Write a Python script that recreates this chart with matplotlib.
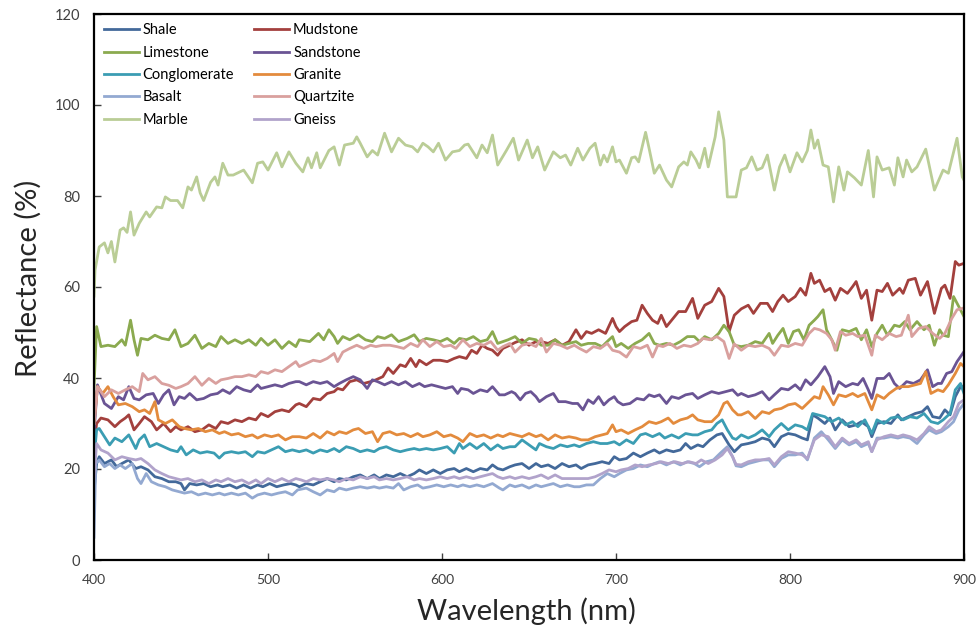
import matplotlib
matplotlib.use("Agg")
import matplotlib.pyplot as plt

plt.rcParams["font.family"] = ["Lato", "DejaVu Sans"]

# ---- data (wavelength in nm, reflectance in %) ----
wl_shale = [400, 401.5, 403, 406, 410, 413, 416, 420, 424, 427, 431, 435, 439, 443, 447, 450, 452, 455, 459, 463,
            467, 471, 474, 478, 482, 486, 490, 494, 497, 501, 505, 509, 513, 516, 518, 522, 526, 530, 534, 538,
            541, 545, 549, 553, 557, 561, 564, 568, 572, 576, 580, 584, 587, 591, 595, 599, 603, 607, 610, 614,
            618, 622, 626, 629, 632, 635, 639, 642, 646, 650, 654, 657, 661, 665, 669, 673, 677, 680, 684, 688,
            692, 696, 699, 702, 706, 710, 714, 718, 722, 725, 729, 733, 737, 740, 743, 747, 750, 754, 758, 761,
            765, 768, 772, 776, 780, 784, 788, 791, 795, 799, 803, 807, 810, 813, 816, 820, 823, 826, 830, 834,
            838, 841, 845, 847, 850, 854, 858, 862, 864, 868, 872, 876, 879, 882, 886, 889, 892, 895, 898, 900]
shale = [15, 21.2, 22.7, 21.2, 22, 20.5, 21.2, 22, 20.1, 20.5, 19.8, 18.3, 17.9, 17.2, 17.2, 16.8, 15.4, 16.8, 16.5, 16.8,
         16.1, 16.5, 16.1, 16.5, 15.8, 16.5, 15.8, 16.5, 16.1, 16.8, 16.1, 16.5, 16.8, 16.5, 16.1, 16.8, 16.5, 17.2, 17.9, 17.2,
         17.9, 17.6, 18.3, 18.7, 17.9, 18.7, 17.9, 18.7, 18.3, 19, 18.3, 19, 19.8, 19, 19.8, 19, 19.8, 20.1, 19.4, 20.1,
         19.4, 20.1, 19.8, 20.9, 20.1, 19.8, 20.5, 20.9, 21.2, 20.1, 21.2, 20.5, 20.9, 20.1, 21.2, 20.5, 20.9, 20.1, 20.9, 21.2,
         21.6, 21.2, 22.7, 22, 22.3, 23.5, 22.7, 23.5, 24.2, 23.5, 24.2, 23.8, 24.2, 25.6, 24.5, 25.3, 24.9, 26.4, 27.5, 27.8,
         25.3, 23.8, 25.3, 25.6, 26, 26.8, 26.4, 24.9, 27.1, 27.8, 27.5, 26.8, 26.4, 31.9, 31.2, 30, 31.2, 28.6, 30.8, 29.3,
         29.7, 30.4, 29.3, 27.1, 30, 30.4, 30, 31.9, 30.8, 31.5, 32.2, 32.6, 33.7, 31.5, 31.2, 33, 31.9, 35.9, 38.1, 38.1]

wl_mudstone = [400, 401.5, 404, 408, 412, 415, 418, 420, 423, 426, 429, 433, 436, 440, 444, 447, 450, 454, 458, 462,
               466, 470, 473, 477, 481, 485, 489, 493, 496, 500, 504, 508, 512, 516, 518, 522, 526, 530, 534, 538,
               540, 543, 547, 551, 555, 559, 562, 566, 569, 572, 576, 579, 582, 585, 587, 591, 595, 599, 603, 607,
               610, 614, 617, 620, 623, 626, 629, 632, 635, 639, 642, 646, 650, 654, 657, 661, 665, 669, 673, 677,
               680, 683, 686, 690, 694, 698, 700, 702, 705, 709, 712, 715, 718, 721, 724, 726, 729, 732, 736, 740,
               744, 747, 751, 755, 759, 762, 765, 768, 772, 776, 779, 783, 787, 790, 793, 796, 799, 803, 806, 809,
               812, 814, 817, 820, 823, 826, 829, 833, 836, 838, 841, 844, 847, 850, 853, 856, 859, 863, 865, 868,
               872, 875, 879, 883, 887, 889, 892, 895, 897, 900]
mudstone = [25, 30, 31.2, 30.8, 29.3, 30.4, 31.2, 31.9, 28.6, 30, 31.5, 30.4, 28.6, 30, 28.2, 29.3, 28.6, 29.3, 28.2, 28.6,
            29.7, 28.9, 30.4, 30, 30.8, 30.4, 31.2, 30.8, 32.2, 31.5, 32.6, 33, 32.6, 34.1, 34.4, 33.7, 35.5, 35.2, 36.6, 37,
            37.7, 37.4, 39.2, 39.6, 38.8, 39.2, 39.6, 40.3, 42.2, 41, 42.9, 42.5, 44.3, 42.5, 43.9, 42.9, 43.9, 43.9, 43.6, 44.3,
            44.7, 44.3, 46.1, 45.4, 47.2, 46.5, 46.1, 45, 46.5, 47.2, 47.8, 48.4, 47.2, 48, 48, 47.6, 48.4, 47.2, 48, 50.6,
            48.7, 50.2, 49.8, 50.6, 49.8, 53.1, 51.3, 50.2, 51.3, 52.4, 52.7, 56, 54.2, 52.7, 52, 53.8, 51.3, 52.7, 54.6, 54.6,
            57.5, 53.1, 56, 56.8, 59.7, 57.9, 50.2, 53.8, 55.2, 56, 54.2, 56.4, 56.4, 54.6, 56.8, 58.2, 56.8, 57.9, 59.7, 58.2,
            63, 60.8, 61.5, 59, 59.7, 57.1, 59.7, 58.6, 60.1, 61.2, 57.5, 59.3, 52.7, 59.3, 59, 60.8, 58.2, 59.7, 58.6, 61.5,
            61.9, 58.2, 61.2, 54.2, 59.7, 60.4, 57.5, 65.6, 64.8, 65.2]

wl_limestone = [400, 401.5, 404, 408, 412, 416, 418, 421, 423, 425, 427, 431, 435, 439, 443, 446.5, 450, 454, 458, 462,
                466, 470, 473, 477, 481, 485, 489, 493, 496, 500, 504, 508, 512, 516, 518, 524, 529, 532, 535, 538,
                540, 543, 547, 552, 556, 560, 563, 567, 571, 575, 580, 584, 587, 591, 595, 599, 603, 607, 610, 614,
                618, 622, 626, 629, 632, 635, 638, 642, 646, 650, 654, 657, 661, 665, 669, 673, 677, 680, 684, 688,
                692, 696, 698, 700, 703, 707, 711, 715, 719, 722, 725, 729, 733, 737, 741, 745, 748, 751, 755, 759,
                762, 765, 768, 772, 776, 780, 784, 788, 790, 793, 796, 799, 802, 805, 808, 811, 814, 816, 819, 821,
                824, 827, 830, 834, 838, 841, 844, 847, 850, 853, 856, 860, 863, 866, 869, 873, 877, 880, 883, 886,
                888, 891, 894, 897, 900]
limestone = [38, 51.3, 46.9, 47.2, 46.9, 48.4, 47.2, 52.7, 48.4, 45, 48.7, 48.4, 49.4, 48.7, 48.4, 50.6, 46.9, 47.6, 49.4, 46.5,
             47.6, 46.9, 49.1, 47.6, 48.4, 47.6, 48.4, 47.2, 48.7, 47.2, 48.4, 46.5, 48, 46.9, 48.4, 48, 49.8, 48.4, 50.6, 49.1,
             47.6, 49.1, 48.4, 49.5, 48.4, 48, 49.1, 48.7, 49.5, 48, 48.7, 49.5, 48, 48.7, 48.4, 48, 48.7, 47.6, 48.7, 48.4,
             49.1, 48, 48.4, 50.2, 47.6, 48, 48.4, 49.1, 47.6, 48.7, 48.4, 47.2, 47.2, 48.4, 47.2, 47.6, 48, 47.2, 47.6, 47.6,
             46.9, 48.4, 49.1, 46.9, 47.6, 46.5, 47.6, 48.4, 49.8, 47.6, 47.2, 47.6, 47.2, 48, 49.1, 49.1, 48, 49.1, 48.4, 49.8,
             51.6, 50.2, 47.2, 46.9, 47.2, 48, 47.6, 49.8, 47.6, 49.4, 50.9, 47.6, 50.2, 50.6, 48.4, 51.6, 52.7, 53.5, 55, 50.6,
             48.4, 46.1, 50.6, 50.2, 50.9, 48.4, 50.6, 46.9, 49.8, 51.6, 49.4, 51.6, 51.3, 52.4, 50.6, 52.4, 50.6, 51.6, 47.2, 50.6,
             49.4, 49.1, 57.9, 55.7, 53.5]

wl_sandstone = [400, 402, 406, 410, 414, 417, 420, 423, 426, 430, 434, 437, 440, 443, 446, 449, 452, 455, 459, 463,
                467, 471, 474, 478, 482, 486, 490, 494, 496, 500, 504, 508, 512, 516, 518, 522, 526, 530, 534, 538,
                541, 545, 549, 553, 557, 560, 563, 567, 571, 575, 579, 583, 587, 590, 594, 598, 602, 606, 609, 611,
                615, 618, 622, 626, 629, 633, 636, 640, 642, 645, 648, 651, 654, 656, 660, 664, 667, 671, 675, 678,
                681, 684, 687, 690, 693, 696, 699, 701, 704, 708, 712, 716, 719, 722, 725, 729, 732, 736, 740, 744,
                747, 751, 755, 759, 763, 767, 770, 772, 776, 780, 784, 788, 791, 795, 799, 803, 806, 809, 812, 816,
                820, 823, 825, 828, 832, 836, 839, 842, 845, 847, 850, 854, 857, 860, 863, 867, 871, 875, 879, 882,
                885, 887, 890, 893, 896, 900]
sandstone = [28, 38.5, 34.4, 33.3, 35.9, 35.2, 38.1, 35.5, 35.2, 36.3, 36.6, 34.4, 36.3, 37.4, 34.1, 35.9, 35.5, 36.6, 35.2, 35.5,
             36.3, 36.6, 37.4, 36.6, 38.1, 37.4, 37, 38.5, 37.7, 38.1, 38.5, 38.1, 38.8, 39.2, 39.2, 38.5, 39.2, 38.8, 39.2, 38.1,
             38.8, 39.6, 40.3, 39.6, 37.7, 39.6, 39.2, 38.5, 39.2, 38.5, 39.2, 38.1, 38.8, 38.1, 38.5, 38.1, 37.7, 38.1, 36.6, 37.7,
             37.4, 36.6, 37.4, 37, 38.1, 36.3, 36.3, 37, 36.6, 35.2, 36.6, 37, 35.9, 34.8, 35.9, 36.6, 34.8, 34.8, 34.4, 34.4,
             33, 35.2, 34.4, 35.9, 34.1, 35.2, 35.9, 34.8, 34.1, 34.4, 35.5, 35.2, 36.3, 35.9, 36.3, 34.4, 35.9, 35.5, 36.3, 36.6,
             35.5, 36.3, 37, 36.6, 37, 37.4, 36.2, 36.6, 35.9, 36.3, 37, 35.2, 36.3, 37.7, 37.4, 38.5, 37.4, 39.6, 38.5, 40.3,
             42.5, 40.3, 36.6, 39.2, 38.1, 38.8, 38.5, 39.9, 37.4, 35.5, 39.9, 39.9, 41, 38.8, 37.7, 39.2, 38.8, 39.6, 41.8, 38.1,
             38.8, 38.8, 41, 41.4, 43.6, 45.8]

wl_conglomerate = [400, 401.5, 403, 406, 409, 412, 416, 420, 424, 426, 429, 432, 436, 440, 444, 448, 450, 453, 457, 461,
                   465, 469, 472, 475, 479, 483, 487, 491, 494, 498, 502, 506, 510, 514, 518, 522, 526, 530, 534, 538,
                   541, 545, 549, 553, 557, 561, 564, 568, 572, 576, 580, 584, 587, 591, 595, 599, 603, 607, 610, 612,
                   616, 620, 624, 628, 632, 635, 639, 642, 646, 650, 654, 656, 660, 664, 668, 672, 676, 679, 683, 687,
                   691, 695, 699, 702, 706, 710, 714, 717, 721, 725, 728, 732, 736, 740, 744, 747, 751, 755, 758, 761,
                   764, 767, 769, 772, 776, 780, 784, 788, 791, 795, 799, 803, 807, 810, 813, 816, 820, 824, 828, 832,
                   836, 839, 843, 847, 850, 854, 858, 862, 865, 869, 873, 877, 881, 885, 888, 892, 895, 898, 900]
conglomerate = [22, 28.6, 28.9, 27.1, 25.3, 26.8, 26, 27.5, 24.5, 26.4, 27.5, 24.9, 25.6, 24.9, 24.2, 23.8, 24.9, 23.1, 24.2, 23.5,
                23.8, 23.5, 22.4, 23.5, 23.8, 23.5, 23.8, 22.7, 23.8, 23.5, 24.2, 24.9, 23.8, 24.2, 23.8, 24.2, 23.5, 24.2, 23.8, 24.5,
                23.8, 24.9, 24.5, 23.8, 24.2, 23.8, 24.5, 24.9, 24.2, 23.8, 24.2, 24.5, 24.2, 24.5, 24.2, 24.5, 24.9, 23.5, 25.6, 24.5,
                25.6, 24.5, 25.6, 24.2, 25.3, 24.5, 24.9, 24.9, 26.4, 25.3, 24.2, 25.6, 24.9, 24.5, 25.3, 24.9, 25.3, 24.9, 25.6, 26,
                25.6, 25.6, 26, 25.3, 26.4, 25.6, 27.5, 27.8, 27.1, 27.8, 26.8, 27.5, 26.8, 27.8, 27.5, 27.5, 28.2, 28.6, 30, 30.8,
                28.6, 26.8, 26.5, 27.5, 26.8, 27.5, 28.6, 27.1, 28.6, 30, 28.6, 29.7, 29.3, 28.6, 32.2, 31.9, 31.5, 30.4, 31.2, 29.7,
                30.4, 29.3, 30.8, 27.8, 30.8, 30, 31.2, 31.5, 30.8, 31.5, 31.2, 32.2, 30.4, 30, 30.8, 32.2, 37.4, 38.8, 36.6]

wl_granite = [400, 402, 405, 408, 411, 414, 418, 422, 426, 429, 432, 435, 437, 441, 445, 449, 452, 456, 460, 464,
              468, 472, 475, 479, 483, 487, 491, 494, 498, 502, 506, 510, 514, 518, 522, 526, 530, 534, 538, 541,
              545, 549, 552, 556, 560, 563, 566, 570, 574, 578, 582, 586, 589, 593, 597, 601, 605, 609, 612, 616,
              620, 624, 628, 632, 635, 639, 642, 646, 650, 654, 657, 661, 665, 669, 673, 677, 680, 684, 688, 692,
              695, 698, 700, 703, 707, 711, 715, 719, 723, 726, 730, 733, 737, 741, 744, 747, 751, 755, 759, 762,
              764, 767, 770, 772, 776, 780, 784, 788, 791, 795, 799, 803, 807, 810, 814, 817, 819, 822, 825, 828,
              832, 836, 839, 843, 847, 850, 854, 857, 861, 864, 868, 872, 875, 878, 881, 885, 888, 891, 895, 898, 900]
granite = [30, 38.1, 36.6, 38.1, 35.9, 34.1, 34.4, 33.7, 32.6, 33, 32.2, 34.8, 30.8, 30, 30.8, 29.3, 28.9, 28.6, 28.9, 28.2,
           28.6, 27.8, 28.2, 27.5, 27.8, 27.1, 27.5, 26.8, 27.5, 27.1, 27.5, 26.4, 27.1, 27.1, 26.8, 27.8, 26.8, 28.2, 27.5, 28.2,
           27.8, 28.6, 28.9, 27.8, 28.2, 26, 27.8, 28.2, 27.5, 27.8, 27.1, 27.8, 27.1, 27.5, 28.2, 27.1, 27.5, 26.8, 26, 27.8,
           27.1, 27.5, 26.8, 27.5, 27.1, 27.8, 27.5, 27.1, 27.8, 27.1, 27.5, 26.4, 27.5, 26.8, 27.1, 26.8, 26.4, 26.4, 27.1, 27.5,
           27.8, 29.7, 28.2, 28.6, 27.8, 28.6, 29.3, 30.4, 30, 30.4, 31.2, 30, 30.8, 31.2, 31.9, 30.8, 30.4, 30.4, 31.9, 34.4,
           34.8, 33, 31.9, 31.9, 32.6, 31.1, 32.6, 32.2, 33, 33.3, 34.1, 34.4, 33.3, 34.4, 35.9, 35.5, 38.1, 36.3, 34.1, 36.3,
           35.9, 36.6, 35.9, 36.6, 33, 36.3, 35.5, 36.6, 37.7, 38.1, 38.1, 38.5, 38.8, 41.4, 36.6, 37.4, 37, 38.5, 41, 43.2, 42.5]

wl_basalt = [400, 401, 403, 406, 409, 412, 415, 418, 422, 425, 427, 430, 433, 437, 441, 445, 449, 452, 456, 460,
             464, 468, 472, 475, 479, 483, 487, 491, 494, 498, 502, 506, 510, 514, 517, 522, 526, 530, 534, 538,
             541, 545, 549, 553, 557, 561, 564, 568, 572, 575, 578, 582, 586, 589, 593, 597, 601, 605, 609, 612,
             616, 620, 624, 629, 633, 635, 639, 642, 646, 650, 654, 657, 661, 664, 668, 672, 676, 679, 683, 687,
             691, 695, 699, 702, 706, 710, 714, 718, 722, 725, 729, 733, 737, 741, 745, 748, 752, 756, 760, 764,
             767, 769, 772, 776, 780, 784, 788, 791, 795, 799, 803, 807, 810, 814, 818, 822, 826, 830, 834, 838,
             841, 845, 847, 850, 854, 858, 862, 865, 869, 873, 877, 880, 884, 887, 891, 894, 897, 900]
basalt = [5, 21.2, 22, 20.5, 21.2, 20.1, 20.9, 20.1, 21.2, 17.9, 16.8, 19, 17.2, 16.5, 16.1, 15.4, 15, 14.7, 15, 14.3,
          14.7, 14.3, 14.7, 14.3, 14.7, 14.3, 14.7, 13.6, 14.3, 14.7, 14.3, 14.7, 15, 14.3, 15.4, 15.8, 15, 14.3, 15.4, 15,
          15.8, 15.4, 15.8, 16.1, 15.8, 16.1, 15.8, 16.1, 15.8, 16.8, 15.4, 16.1, 16.5, 15.8, 16.1, 16.5, 16.1, 16.5, 16.1, 16.5,
          16.1, 16.5, 16.1, 16.8, 15.8, 15.4, 16.5, 16.1, 16.5, 15.8, 16.5, 16.1, 16.5, 16.8, 16.1, 16.5, 16.1, 16.1, 16.5, 16.5,
          17.9, 19, 18.3, 19, 19.8, 20.1, 20.9, 20.5, 21.2, 21.6, 20.9, 21.6, 20.9, 21.6, 21.2, 20.5, 21.6, 22, 23.5, 24.9,
          22.7, 20.7, 20.5, 21.2, 21.6, 22, 22, 20.5, 22.3, 23.1, 23.1, 23.5, 22, 26.8, 28.2, 26.4, 24.5, 26.4, 25.3, 26,
          24.9, 25.6, 23.8, 26.8, 26.8, 27.1, 26.8, 27.1, 26.8, 25.6, 27.5, 28.6, 27.8, 28.2, 29.3, 30.4, 32.9, 34.4]

wl_quartzite = [400, 402, 406, 410, 414, 418, 422, 426, 428, 431, 435, 439, 443, 447, 450, 454, 458, 462, 466, 470,
                473, 477, 481, 485, 489, 493, 496, 500, 504, 508, 512, 516, 518, 522, 526, 530, 534, 538, 540, 543,
                547, 551, 555, 559, 562, 566, 570, 574, 578, 582, 586, 589, 593, 597, 601, 605, 608, 612, 616, 620,
                624, 628, 632, 635, 639, 642, 646, 650, 654, 657, 660, 664, 668, 672, 676, 679, 683, 687, 691, 695,
                698, 702, 706, 710, 714, 718, 721, 724, 727, 731, 735, 739, 743, 747, 750, 754, 758, 762, 765, 768,
                772, 776, 780, 784, 788, 791, 795, 799, 803, 807, 811, 814, 817, 821, 824, 826, 829, 832, 836, 839,
                843, 847, 849, 853, 857, 861, 864, 868, 870, 874, 878, 882, 886, 889, 893, 896, 900]
quartzite = [30, 38.1, 35.9, 37.4, 36.6, 37.4, 38.1, 37, 41, 39.6, 40.3, 38.8, 38.4, 37.7, 38.1, 38.8, 40.3, 38.4, 39.9, 38.8,
             39.6, 39.9, 40.3, 40.3, 40.7, 40.3, 41.4, 41, 41.8, 41.4, 42.5, 43.6, 42.5, 43.2, 43.9, 43.6, 44.3, 45.4, 43.6, 45.7,
             46.5, 47.2, 46.5, 47.2, 46.9, 47.2, 47.2, 46.9, 46.5, 47.6, 46.9, 48.4, 46.9, 48, 46.9, 47.2, 46.5, 48.4, 46.9, 47.6,
             47.2, 48, 46.1, 46.9, 47.6, 45.7, 47.2, 47.6, 46.9, 48.7, 45.7, 47.6, 47.2, 46.5, 47.2, 46.5, 45.7, 46.9, 46.5, 47.6,
             46.1, 45.7, 44.6, 46.9, 46.5, 47.2, 44.6, 47.2, 46.9, 47.6, 46.5, 47.2, 46.9, 47.6, 48.7, 48.4, 49.1, 48, 44.3, 47.5,
             46.1, 47.2, 46.9, 47.2, 46.5, 45, 47.2, 46.9, 47.6, 47.2, 49.8, 50.9, 50.6, 49.8, 48.4, 46.1, 50.2, 49.4, 49.8, 49.1,
             49.4, 45, 49.4, 48.4, 49.8, 49.1, 49.4, 53.8, 49.1, 50.9, 51.3, 49.8, 48.7, 49.8, 53.1, 55, 55.4]

wl_marble = [400, 400.6, 403, 406, 408, 410, 412, 415, 417, 419, 421, 423, 426, 430, 432, 436, 439, 441, 444, 448,
             451, 454, 456, 459, 461, 463, 467, 469.5, 471.3, 474, 477, 480, 486, 491, 494, 497, 500, 505, 508, 512,
             516, 520, 523, 525, 528, 530, 535, 538, 541, 544, 549, 551, 553, 557, 560, 563, 567, 571, 575, 579,
             583, 586, 589, 592, 595, 598, 602, 606, 610, 613, 615, 620, 623, 626, 629, 632, 637, 641, 644, 649,
             652, 655, 659, 664, 668, 671, 674, 678, 681, 685, 688, 691, 693, 695, 698, 700, 702, 706, 709, 711,
             713, 717, 719, 722, 725, 729, 732, 736, 739, 741, 743, 746, 748, 751, 753, 757, 759, 762, 764, 769,
             772, 775, 778, 781, 784, 787, 791, 794, 797, 800, 804, 807, 810, 812, 814, 816, 819, 822, 825, 828,
             831, 833, 837, 841, 845, 848, 850, 853, 857, 860, 862, 865, 867, 870, 873, 878, 883, 888, 891, 896,
             899, 900]
marble = [58, 63.7, 68.8, 69.7, 67.5, 70, 65.5, 72.5, 73, 72, 76.5, 71.4, 74, 76.5, 75.4, 77.6, 77.4, 79.8, 79, 79,
          77.4, 82, 81.3, 84.2, 80.7, 79, 83, 84.2, 82.4, 87.2, 84.6, 84.6, 85.7, 82.9, 87.2, 87.5, 85.7, 89.5, 86.4, 89.7,
          87.2, 85.3, 88.4, 86.2, 89.5, 86.2, 90, 90.8, 86.8, 91.2, 91.6, 93, 91.6, 88.6, 90, 89, 93.8, 89.7, 92.7, 91.2,
          90.8, 89.7, 91.6, 90.8, 89.7, 91.6, 87.9, 89.7, 90, 91.2, 91.4, 88.4, 91.2, 89.5, 93.4, 86.8, 90, 92.7, 87.9, 92.3,
          88.4, 90.8, 85.7, 89.7, 88.4, 89, 86.8, 90.5, 87.9, 90.5, 91.6, 86.8, 89, 87.5, 90.8, 87.5, 87.9, 85, 88.4, 88.6,
          87.5, 94, 90.5, 85, 86.8, 83.5, 82, 86.4, 87.5, 86.8, 89.7, 87.9, 86.2, 90.5, 86.4, 93, 98.5, 92.3, 79.8, 79.8,
          85.7, 86.2, 88.6, 85.7, 86.2, 89, 81.3, 86.4, 89, 85.3, 89.5, 87.5, 90, 94.5, 90.5, 92.3, 86.8, 86.4, 78.7, 86.4,
          81.3, 85.3, 84, 82.4, 90, 79.8, 88.6, 85.7, 86.2, 82.4, 88.4, 84.2, 87.9, 85.3, 86.4, 90.3, 81.3, 85.7, 85, 92.7,
          84.2, 83.5]

wl_gneiss = [400, 401.5, 404, 408, 412, 416, 420, 424, 427, 431, 435, 439, 443, 447, 450, 454, 458, 462, 466, 470,
             473, 477, 481, 485, 489, 493, 496, 500, 504, 508, 512, 516, 519, 522, 526, 530, 534, 538, 541, 545,
             549, 553, 557, 561, 564, 568, 572, 576, 580, 584, 587, 591, 595, 599, 603, 607, 610, 614, 618, 622,
             626, 629, 632, 635, 639, 642, 646, 650, 654, 657, 661, 665, 669, 673, 677, 680, 684, 688, 692, 696,
             700, 703, 707, 711, 715, 719, 723, 726, 730, 734, 738, 742, 746, 749, 753, 757, 761, 764, 767, 769,
             772, 776, 780, 784, 788, 791, 795, 799, 803, 807, 810, 814, 818, 822, 826, 830, 834, 838, 841, 845,
             847, 850, 854, 858, 862, 865, 869, 873, 877, 880, 884, 887, 891, 894, 897, 900]
gneiss = [18, 25.6, 24.2, 23.5, 22, 22.7, 22.3, 22, 22.3, 21.2, 19.8, 19, 18.3, 17.9, 17.6, 17.9, 17.2, 17.6, 16.8, 17.6,
          17.2, 17.9, 17.2, 17.6, 16.8, 17.6, 16.8, 17.9, 17.2, 17.9, 17.2, 17.9, 17.6, 17.2, 17.9, 17.6, 17.9, 17.6, 17.2, 17.9,
          17.6, 18.3, 17.9, 18.3, 17.6, 17.9, 17.6, 17.9, 18.3, 17.6, 17.9, 17.6, 17.9, 18.3, 17.9, 18.3, 17.9, 18.3, 17.9, 18.3,
          18.7, 19, 18.3, 17.9, 18.3, 17.9, 18.3, 17.9, 18.3, 18.7, 17.9, 18.7, 17.9, 17.9, 17.9, 17.9, 17.9, 18.3, 19, 19.8,
          19.4, 19.8, 20.1, 20.9, 20.5, 20.9, 21.2, 21.6, 21.2, 21.6, 21.2, 21.6, 21.2, 22, 21.2, 22, 23.1, 24.5, 22.7, 21,
          20.9, 21.6, 22, 22, 22.3, 20.9, 22.7, 23.8, 23.5, 23.1, 22.3, 26.4, 27.5, 27.1, 24.9, 26.8, 25.6, 26.4, 25.3, 26,
          23.8, 26.4, 27.1, 27.5, 27.1, 27.5, 27.1, 26.4, 27.8, 29.3, 28.2, 28.6, 30.4, 31.5, 34.4, 35.2]

# series order as in the workbook; legend fills row by row
names = ["Shale", "Mudstone", "Limestone", "Sandstone", "Conglomerate",
         "Granite", "Basalt", "Quartzite", "Marble", "Gneiss"]
series = [(wl_shale, shale), (wl_mudstone, mudstone), (wl_limestone, limestone),
          (wl_sandstone, sandstone), (wl_conglomerate, conglomerate), (wl_granite, granite),
          (wl_basalt, basalt), (wl_quartzite, quartzite), (wl_marble, marble), (wl_gneiss, gneiss)]
colors = ["#43699A", "#A3403D", "#8BAA4F", "#6A5494", "#3B9DB3",
          "#E38B3D", "#93A9D1", "#D9A09E", "#BACD96", "#B1A3CB"]


def main():
    fig = plt.figure(figsize=(9.77, 6.35), dpi=100)
    ax = fig.add_axes([94 / 977, 1 - 560 / 635, 870 / 977, 546 / 635])

    handles = []
    for (x, y), name, c in zip(series, names, colors):
        h, = ax.plot(x, y, color=c, lw=2.0, label=name, solid_joinstyle="round")
        handles.append(h)

    ax.set_xlim(400, 900)
    ax.set_ylim(0, 120)
    ax.set_xticks(range(400, 901, 100))
    ax.set_yticks(range(0, 121, 20))
    ax.tick_params(axis="both", direction="in", length=5, width=1, color="#404040")
    ax.tick_params(axis="y", labelsize=10.5, pad=10, labelcolor="#404040")
    ax.tick_params(axis="x", labelsize=10, pad=10, labelcolor="#404040")
    for s in ax.spines.values():
        s.set_linewidth(1.6)
        s.set_color("black")

    ax.set_xlabel("Wavelength (nm)", fontsize=21, color="#262626")
    ax.set_ylabel("Reflectance (%)", fontsize=21, color="#262626")
    ax.xaxis.set_label_coords(0.497, -0.068)
    ax.yaxis.set_label_coords(-0.06, 0.515)

    # legend: two columns filled row-wise
    order = handles[0::2] + handles[1::2]
    ax.legend(order, [h.get_label() for h in order], ncol=2, loc="upper left",
              bbox_to_anchor=(0.008, 0.988), frameon=False, fontsize=10.5,
              handlelength=2.4, handletextpad=0.25, columnspacing=1.4,
              labelspacing=0.57, borderaxespad=0.0, borderpad=0.2)

    fig.savefig("out.png", dpi=100, facecolor="white")
    plt.close(fig)


if __name__ == "__main__":
    main()
